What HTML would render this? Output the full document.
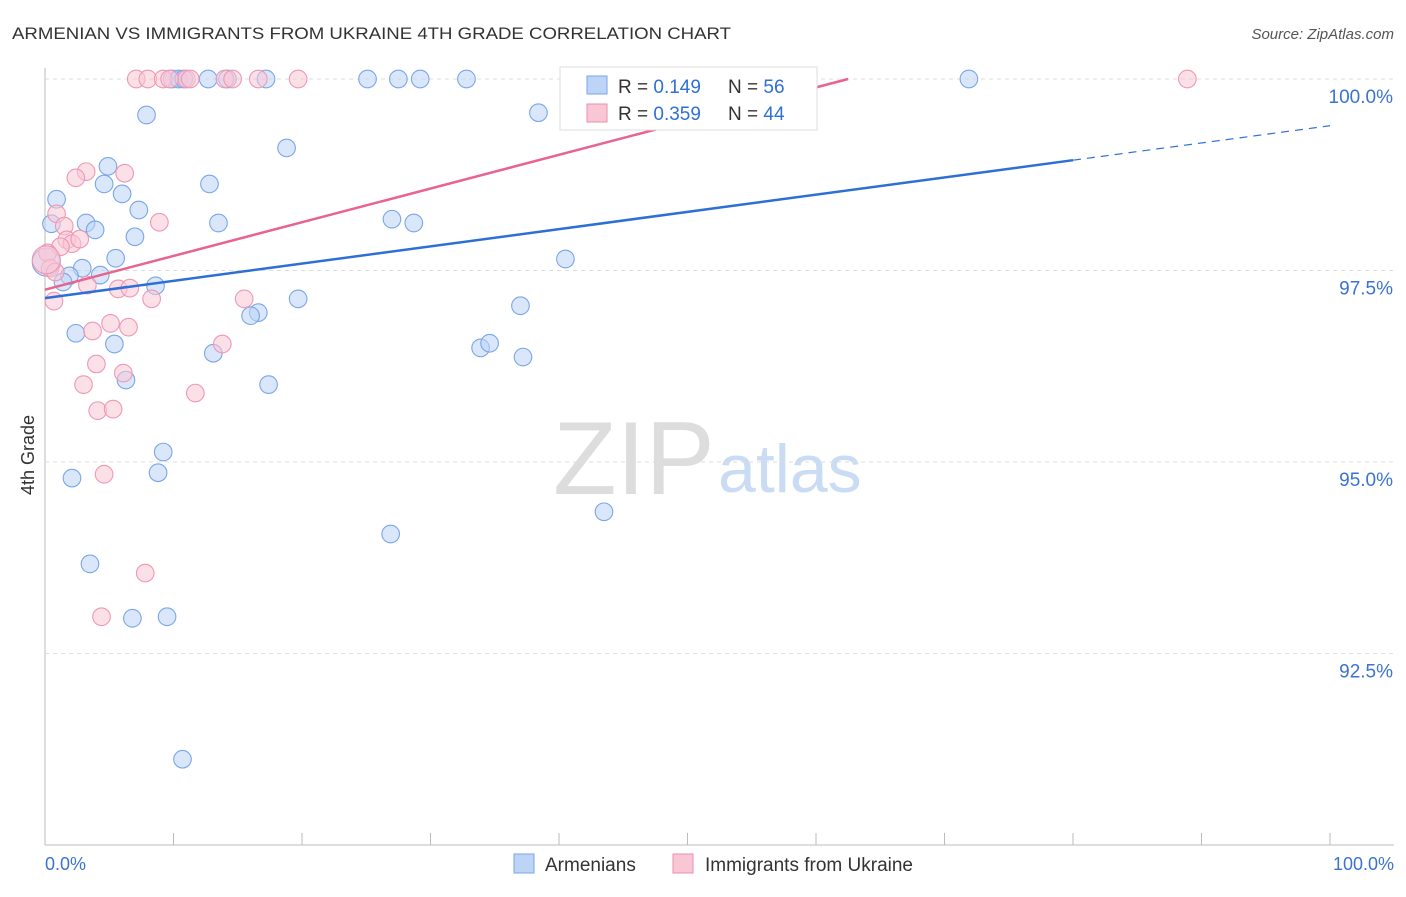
<!DOCTYPE html>
<html><head><meta charset="utf-8"><style>
body{margin:0;background:#fff;font-family:"Liberation Sans",sans-serif;}
svg text{font-family:"Liberation Sans",sans-serif;}
</style></head><body>
<svg id="c" width="1406" height="892" xmlns="http://www.w3.org/2000/svg">
<text x="12" y="39" font-size="17" fill="#333" textLength="719" lengthAdjust="spacingAndGlyphs">ARMENIAN VS IMMIGRANTS FROM UKRAINE 4TH GRADE CORRELATION CHART</text>
<text x="1394" y="39" font-size="15" fill="#555" text-anchor="end" font-style="italic">Source: ZipAtlas.com</text>
<text x="553" y="494" font-size="104" fill="#ddd" font-family="Liberation Serif,serif">ZIP</text>
<text x="718" y="492" font-size="68" fill="#c9dcf3">atlas</text>
<text transform="translate(34,455) rotate(-90)" font-size="18" fill="#333" text-anchor="middle">4th Grade</text>
<g id="grid"></g><g id="pts"></g><g id="lines"></g>
<g>
<rect x="560" y="67" width="257" height="63" fill="#fff" stroke="#ddd"/>
<rect x="587" y="76" width="20" height="18" fill="#bcd4f5" stroke="#7aa6e8"/>
<rect x="587" y="104" width="20" height="18" fill="#f9c6d6" stroke="#ee8eac"/>
<text x="618" y="93" font-size="19" fill="#333">R = <tspan fill="#2f6fd6">0.149</tspan></text>
<text x="728" y="93" font-size="19" fill="#333">N = <tspan fill="#2f6fd6">56</tspan></text>
<text x="618" y="120" font-size="19" fill="#333">R = <tspan fill="#2f6fd6">0.359</tspan></text>
<text x="728" y="120" font-size="19" fill="#333">N = <tspan fill="#2f6fd6">44</tspan></text>
</g>
<g>
<rect x="514" y="854" width="20" height="19" fill="#bcd4f5" stroke="#7aa6e8"/>
<text x="545" y="871" font-size="19" fill="#333">Armenians</text>
<rect x="673" y="854" width="20" height="19" fill="#f9c6d6" stroke="#ee8eac"/>
<text x="705" y="871" font-size="19" fill="#333">Immigrants from Ukraine</text>
</g>
<text x="45" y="870" font-size="18" fill="#3b73d1">0.0%</text>
<text x="1394" y="870" font-size="18" fill="#3b73d1" text-anchor="end">100.0%</text>
</svg>
<script>
const yTicks=[100,97.5,95,92.5];
const yTickLabels=["100.0%","97.5%","95.0%","92.5%"];
const blueX=[9.9,10.4,10.8,12.7,14.2,17.2,25.1,27.5,29.2,32.8,71.9,7.9,38.4,18.8,4.9,4.6,12.8,6.0,0.9,7.3,0.5,3.2,13.5,27.0,28.7,3.9,7.0,40.5,5.5,2.9,0.1,1.9,1.4,4.3,8.6,19.7,37.0,16.6,16.0,2.4,5.4,13.1,33.9,34.6,37.2,6.3,17.4,9.2,8.8,2.1,43.5,26.9,3.5,6.8,9.5,10.7];
const blueY=[100,100,100,100,100,100,100,100,100,100,100,99.53,99.56,99.10,98.86,98.63,98.63,98.50,98.43,98.29,98.11,98.12,98.12,98.17,98.12,98.03,97.94,97.65,97.66,97.53,97.61,97.43,97.35,97.44,97.30,97.13,97.04,96.95,96.91,96.68,96.54,96.42,96.49,96.55,96.37,96.07,96.01,95.13,94.86,94.79,94.35,94.06,93.67,92.96,92.98,91.12];
const pinkX=[7.1,8.0,9.2,11.0,11.3,14.0,16.6,19.7,88.9,9.7,14.6,3.2,2.4,6.2,0.9,1.5,8.9,1.7,2.1,2.7,1.2,0.2,0.4,0.8,3.3,5.7,6.6,8.3,15.5,0.7,5.1,6.5,3.7,13.8,4.0,6.1,3.0,11.7,4.1,5.3,4.6,7.8,4.4,0.1];
const pinkY=[100,100,100,100,100,100,100,100,100,100,100,98.79,98.71,98.77,98.24,98.08,98.13,97.90,97.85,97.91,97.81,97.73,97.53,97.48,97.31,97.26,97.27,97.13,97.13,97.10,96.81,96.76,96.71,96.54,96.28,96.16,96.01,95.90,95.67,95.69,94.84,93.55,92.98,97.64];
const blueTrend=[97.14,0.0225];
const pinkTrend=[97.25,0.044];
const X=v=>45+v*12.85, Y=v=>79+(100-v)*76.6;
const NS="http://www.w3.org/2000/svg";
function mk(t,a,p){const e=document.createElementNS(NS,t);for(const k in a)e.setAttribute(k,a[k]);p.appendChild(e);return e;}
const grid=document.getElementById('grid');
const ax=mk('line',{x1:45,y1:68,x2:45,y2:845,stroke:'#bbb'},grid);


const bx=mk('line',{x1:45,y1:845,x2:1394,y2:845,stroke:'#bbb'},grid);


for(let i=0;i<=10;i++){const t=mk('line',{x1:X(i*10),y1:833,x2:X(i*10),y2:845,stroke:'#bbb'},grid);

}
yTicks.forEach((v,i)=>{const g=mk('line',{x1:45,y1:Y(v),x2:1394,y2:Y(v),stroke:'#ddd','stroke-dasharray':'4,4'},grid);


const t=mk('text',{x:1393,y:Y(v)+24,'font-size':19,fill:'#3b73d1','text-anchor':'end'},grid);t.textContent=yTickLabels[i];

});
const pts=document.getElementById('pts');
function dots(xs,ys,fill,stroke,name){xs.forEach((x,i)=>{const big=(x<0.3&&Math.abs(ys[i]-97.6)<0.1);const c=mk('circle',{cx:X(x),cy:Y(ys[i]),r:big?14:8.8,fill:fill,'fill-opacity':0.55,stroke:stroke,'stroke-width':1.1},pts);

});}
dots(blueX,blueY,'#bcd4f5','#7aa6e8','armenians-point');
dots(pinkX,pinkY,'#f9c6d6','#ee98b4','ukraine-point');
const L=document.getElementById('lines');
const b1=mk('line',{x1:X(0),y1:Y(blueTrend[0]),x2:X(80),y2:Y(blueTrend[0]+80*blueTrend[1]),stroke:'#2e6fd6','stroke-width':2.5},L);


const b2=mk('line',{x1:X(80),y1:Y(blueTrend[0]+80*blueTrend[1]),x2:X(100),y2:Y(blueTrend[0]+100*blueTrend[1]),stroke:'#2e6fd6','stroke-width':1.2,'stroke-dasharray':'8,6'},L);


const xe=(100-pinkTrend[0])/pinkTrend[1];
const p1=mk('line',{x1:X(0),y1:Y(pinkTrend[0]),x2:X(xe),y2:Y(100),stroke:'#e8648f','stroke-width':2.5},L);


</script>
</body></html>
